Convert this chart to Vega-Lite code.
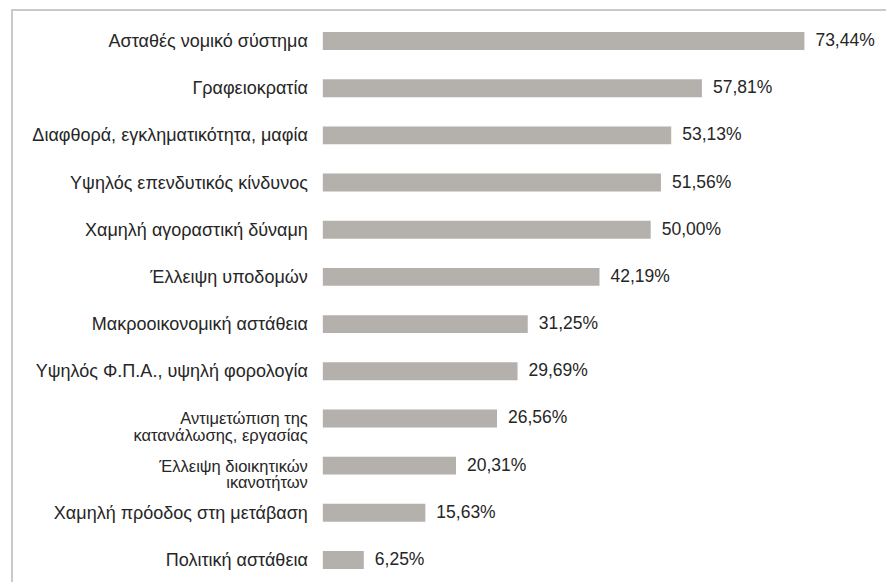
{
  "$schema": "https://vega.github.io/schema/vega-lite/v6.json",
  "autosize": "none",
  "padding": {"left": 12, "top": 10, "right": 0, "bottom": 0},
  "width": 901,
  "height": 581,
  "background": "white",
  "config": {"view": {"stroke": "#c9c9c9", "strokeWidth": 2}, "font": "Liberation Sans"},
  "data": {"values": [
    {"cat": "Ασταθές νομικό σύστημα", "lines": ["Ασταθές νομικό σύστημα"], "n": 1, "v": 73.44},
    {"cat": "Γραφειοκρατία", "lines": ["Γραφειοκρατία"], "n": 1, "v": 57.81},
    {"cat": "Διαφθορά, εγκληματικότητα, μαφία", "lines": ["Διαφθορά, εγκληματικότητα, μαφία"], "n": 1, "v": 53.13},
    {"cat": "Υψηλός επενδυτικός κίνδυνος", "lines": ["Υψηλός επενδυτικός κίνδυνος"], "n": 1, "v": 51.56},
    {"cat": "Χαμηλή αγοραστική δύναμη", "lines": ["Χαμηλή αγοραστική δύναμη"], "n": 1, "v": 50.00},
    {"cat": "Έλλειψη υποδομών", "lines": ["Έλλειψη υποδομών"], "n": 1, "v": 42.19},
    {"cat": "Μακροοικονομική αστάθεια", "lines": ["Μακροοικονομική αστάθεια"], "n": 1, "v": 31.25},
    {"cat": "Υψηλός Φ.Π.Α., υψηλή φορολογία", "lines": ["Υψηλός Φ.Π.Α., υψηλή φορολογία"], "n": 1, "v": 29.69},
    {"cat": "Αντιμετώπιση της κατανάλωσης, εργασίας", "lines": ["Αντιμετώπιση της", "κατανάλωσης, εργασίας"], "n": 2, "v": 26.56},
    {"cat": "Έλλειψη διοικητικών ικανοτήτων", "lines": ["Έλλειψη διοικητικών", "ικανοτήτων"], "n": 2, "v": 20.31},
    {"cat": "Χαμηλή πρόοδος στη μετάβαση", "lines": ["Χαμηλή πρόοδος στη μετάβαση"], "n": 1, "v": 15.63},
    {"cat": "Πολιτική αστάθεια", "lines": ["Πολιτική αστάθεια"], "n": 1, "v": 6.25}
  ]},
  "transform": [
    {"calculate": "replace(format(datum.v, '.2f'), '.', ',') + '%'", "as": "lbl"}
  ],
  "encoding": {
    "y": {"field": "cat", "type": "nominal", "sort": null, "axis": null,
          "scale": {"paddingInner": 0.62, "paddingOuter": 0.467}}
  },
  "layer": [
    {"mark": {"type": "bar", "color": "#b4b0ac"},
     "encoding": {
       "x": {"field": "v", "type": "quantitative", "scale": {"domain": [-47.4, 90], "nice": false, "zero": false}, "axis": null},
       "x2": {"datum": 0}}},
    {"mark": {"type": "text", "align": "left", "baseline": "middle", "dx": 11, "fontSize": 17.5, "color": "#262626"},
     "encoding": {"x": {"field": "v", "type": "quantitative"}, "text": {"field": "lbl", "type": "nominal"}}},
    {"transform": [{"filter": "datum.n == 1"}],
     "mark": {"type": "text", "align": "right", "baseline": "middle", "dx": -15, "dy": 1, "fontSize": 18, "color": "#262626"},
     "encoding": {"x": {"datum": 0, "type": "quantitative"}, "text": {"field": "lines", "type": "nominal"}}},
    {"transform": [{"filter": "datum.n == 2"}],
     "mark": {"type": "text", "align": "right", "baseline": "middle", "dx": -15, "dy": 1, "fontSize": 16.5, "lineHeight": 16.5, "color": "#262626"},
     "encoding": {"x": {"datum": 0, "type": "quantitative"}, "text": {"field": "lines", "type": "nominal"}}}
  ]
}
